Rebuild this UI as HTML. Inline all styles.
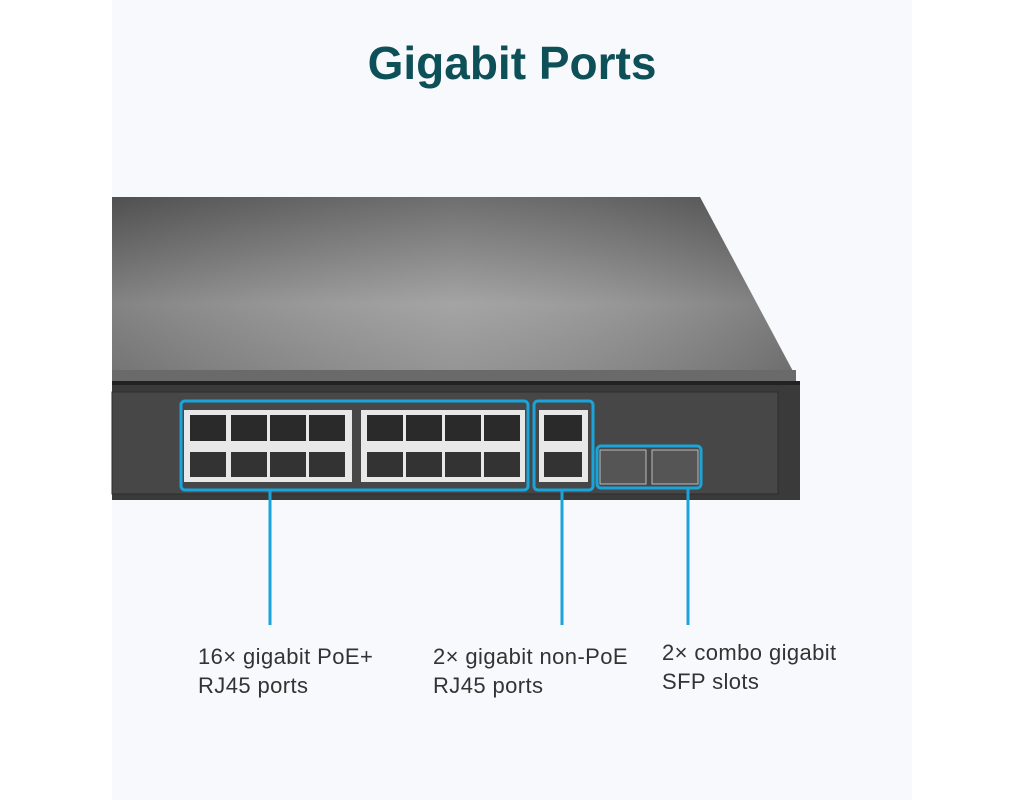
<!DOCTYPE html>
<html><head><style>
body{margin:0;width:1024px;height:800px;background:#fff;position:relative;overflow:hidden;font-family:"Liberation Sans",sans-serif}
.panel{position:absolute;left:112px;top:0;width:800px;height:800px;background:#f7f9fc}
h1{position:absolute;left:112px;width:800px;top:36px;margin:0;text-align:center;font-size:46px;font-weight:bold;color:#0d5058}
.lbl{position:absolute;font-size:22px;letter-spacing:0.4px;color:#333;line-height:29px}
</style></head><body>
<div class="panel"></div>
<h1>Gigabit Ports</h1>
<svg width="1024" height="800" style="position:absolute;left:0;top:0">
<defs>
<linearGradient id="top" x1="0" y1="0" x2="0" y2="1">
<stop offset="0" stop-color="#5e5e5e"/><stop offset="0.6" stop-color="#9a9a9a"/><stop offset="1" stop-color="#888"/></linearGradient>
<linearGradient id="tp" x1="0" y1="0" x2="1" y2="0">
<stop offset="0" stop-color="#000" stop-opacity="0.15"/><stop offset="0.5" stop-color="#fff" stop-opacity="0.1"/><stop offset="1" stop-color="#000" stop-opacity="0.2"/></linearGradient>
</defs>
<polygon points="112,197 700,197 795,375 112,375" fill="url(#top)"/>
<polygon points="112,197 700,197 795,375 112,375" fill="url(#tp)"/>
<rect x="112" y="370" width="684" height="12" fill="#6a6a6a"/>
<rect x="112" y="381" width="688" height="4" fill="#222"/>
<rect x="112" y="385" width="688" height="115" fill="#3a3a3a"/>
<rect x="112" y="392" width="666" height="102" fill="#474747" stroke="#2e2e2e"/>
<rect x="184" y="410" width="168" height="72" fill="#e8e8e8"/>
<rect x="361" y="410" width="164" height="72" fill="#e8e8e8"/>
<rect x="539" y="410" width="49" height="72" fill="#e8e8e8"/>
<g fill="#2a2a2a">
<rect x="190" y="415" width="36" height="26"/><rect x="231" y="415" width="36" height="26"/><rect x="270" y="415" width="36" height="26"/><rect x="309" y="415" width="36" height="26"/>
<rect x="367" y="415" width="36" height="26"/><rect x="406" y="415" width="36" height="26"/><rect x="445" y="415" width="36" height="26"/><rect x="484" y="415" width="36" height="26"/>
<rect x="544" y="415" width="38" height="26"/>
</g>
<g fill="#333">
<rect x="190" y="452" width="36" height="25"/><rect x="231" y="452" width="36" height="25"/><rect x="270" y="452" width="36" height="25"/><rect x="309" y="452" width="36" height="25"/>
<rect x="367" y="452" width="36" height="25"/><rect x="406" y="452" width="36" height="25"/><rect x="445" y="452" width="36" height="25"/><rect x="484" y="452" width="36" height="25"/>
<rect x="544" y="452" width="38" height="25"/>
</g>
<rect x="600" y="450" width="46" height="34" fill="#555" stroke="#bbb"/>
<rect x="652" y="450" width="46" height="34" fill="#555" stroke="#bbb"/>
<g fill="none" stroke="#1ba4da" stroke-width="3">
<rect x="181" y="401" width="347" height="89" rx="4"/>
<rect x="534" y="401" width="59" height="89" rx="4"/>
<rect x="597" y="446" width="104" height="42" rx="4"/>
<line x1="270" y1="490" x2="270" y2="625"/>
<line x1="562" y1="490" x2="562" y2="625"/>
<line x1="688" y1="488" x2="688" y2="625"/>
</g>
</svg>
<div class="lbl" style="left:198px;top:642px">16× gigabit PoE+<br>RJ45 ports</div>
<div class="lbl" style="left:433px;top:642px">2× gigabit non-PoE<br>RJ45 ports</div>
<div class="lbl" style="left:662px;top:638px">2× combo gigabit<br>SFP slots</div>
</body></html>
